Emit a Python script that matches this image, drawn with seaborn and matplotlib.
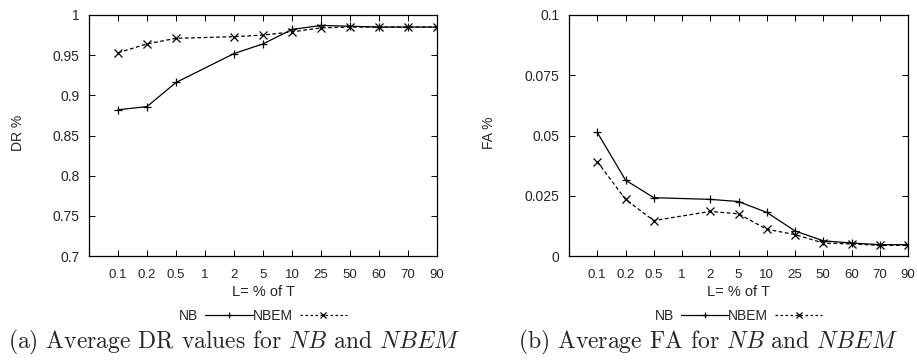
import numpy as np
import pandas as pd
import matplotlib
matplotlib.use("Agg")
import matplotlib.pyplot as plt
from matplotlib.lines import Line2D
import seaborn as sns

# ---- data ----
x_labels = ["0.1", "0.2", "0.5", "1", "2", "5", "10", "25", "50", "60", "70", "90"]
series_x = ["0.1", "0.2", "0.5", "2", "5", "10", "25", "50", "60", "70", "90"]
dr_nb = [0.882, 0.886, 0.916, 0.952, 0.964, 0.982, 0.987, 0.986, 0.985, 0.985, 0.985]
dr_nbem = [0.953, 0.964, 0.971, 0.973, 0.975, 0.979, 0.984, 0.985, 0.985, 0.985, 0.985]
fa_nb = [0.0513, 0.0315, 0.0242, 0.0235, 0.0226, 0.0181, 0.0104, 0.0063, 0.0054, 0.0047, 0.0047]
fa_nbem = [0.0392, 0.0235, 0.0147, 0.0185, 0.0175, 0.0111, 0.0089, 0.0054, 0.0050, 0.0044, 0.0044]
dr_yticks = [0.7, 0.75, 0.8, 0.85, 0.9, 0.95, 1]
dr_ytick_labels = ["0.7", "0.75", "0.8", "0.85", "0.9", "0.95", "1"]
fa_yticks = [0, 0.025, 0.05, 0.075, 0.1]
fa_ytick_labels = ["0", "0.025", "0.05", "0.075", "0.1"]
captions = [r"(a) Average DR values for $\mathit{NB}$ and $\mathit{NBEM}$",
            r"(b) Average FA for $\mathit{NB}$ and $\mathit{NBEM}$"]

sns.set_theme(style="ticks")
plt.rcParams["font.family"] = ["Liberation Sans", "DejaVu Sans"]
plt.rcParams["mathtext.fontset"] = "cm"

W, H = 917, 362
fig = plt.figure(figsize=(W / 100, H / 100), dpi=100)

def mk_df(nb, nbem):
    pos = [x_labels.index(v) for v in series_x]
    return pd.DataFrame({
        "pos": pos * 2,
        "val": list(nb) + list(nbem),
        "series": ["NB"] * len(nb) + ["NBEM"] * len(nbem),
    })

panels = [
    dict(rect=(89, 15, 437, 256), df=mk_df(dr_nb, dr_nbem), ylim=(0.7, 1.0),
         yt=dr_yticks, ytl=dr_ytick_labels, ylab="DR %", ylab_x=18, cap_x=8),
    dict(rect=(569, 15, 908, 256), df=mk_df(fa_nb, fa_nbem), ylim=(0, 0.1),
         yt=fa_yticks, ytl=fa_ytick_labels, ylab="FA %", ylab_x=489, cap_x=518),
]

FS = 9.5
for i, p in enumerate(panels):
    x0, y0, x1, y1 = p["rect"]
    ax = fig.add_axes([x0 / W, 1 - y1 / H, (x1 - x0) / W, (y1 - y0) / H])
    sns.lineplot(data=p["df"], x="pos", y="val", style="series", markers={"NB": "+", "NBEM": "x"},
                 dashes={"NB": "", "NBEM": (3, 2)}, color="black", linewidth=0.9,
                 markersize=6, markeredgewidth=0.9, markeredgecolor="black",
                 ax=ax, legend=False)
    ax.set_xlim(-1, 11)
    ax.set_ylim(*p["ylim"])
    ax.set_xticks(range(len(x_labels)))
    ax.set_xticklabels(x_labels, fontsize=FS)
    ax.set_yticks(p["yt"])
    ax.set_yticklabels(p["ytl"], fontsize=FS + 0.5)
    ax.tick_params(direction="in", length=4.5, width=0.7, top=True, right=True,
                   color="black", pad=7)
    ax.tick_params(axis="x", pad=9.5)
    for s in ax.spines.values():
        s.set_linewidth(0.9)
        s.set_color("black")
    ax.set_xlabel("")
    ax.set_ylabel("")
    fig.text(((x0 + x1) / 2) / W, 1 - 292 / H, "L= % of T", ha="center", va="center",
             fontsize=10.5)
    fig.text(p["ylab_x"] / W, 1 - 133 / H, p["ylab"], rotation=90,
             ha="center", va="center", fontsize=10)
    # legend (gnuplot style: label then sample)
    h1 = Line2D([], [], color="black", lw=0.9, marker="+", markersize=5, mew=0.9)
    h2 = Line2D([], [], color="black", lw=0.9, ls=(0, (2, 2)), marker="x", markersize=4, mew=0.9)
    fig.legend([h1, h2], ["NB", "NBEM"], loc="center", ncol=2, markerfirst=False,
               bbox_to_anchor=(((x0 + x1) / 2) / W, 1 - 316 / H), frameon=False,
               fontsize=FS + 0.5, handlelength=3.4, columnspacing=0.0, handletextpad=0.5,
               borderpad=0)
    fig.text(p["cap_x"] / W, 1 - 348 / H, captions[i], ha="left", va="baseline",
             fontsize=17, family="cmr10")

fig.savefig("out.png", dpi=100)
